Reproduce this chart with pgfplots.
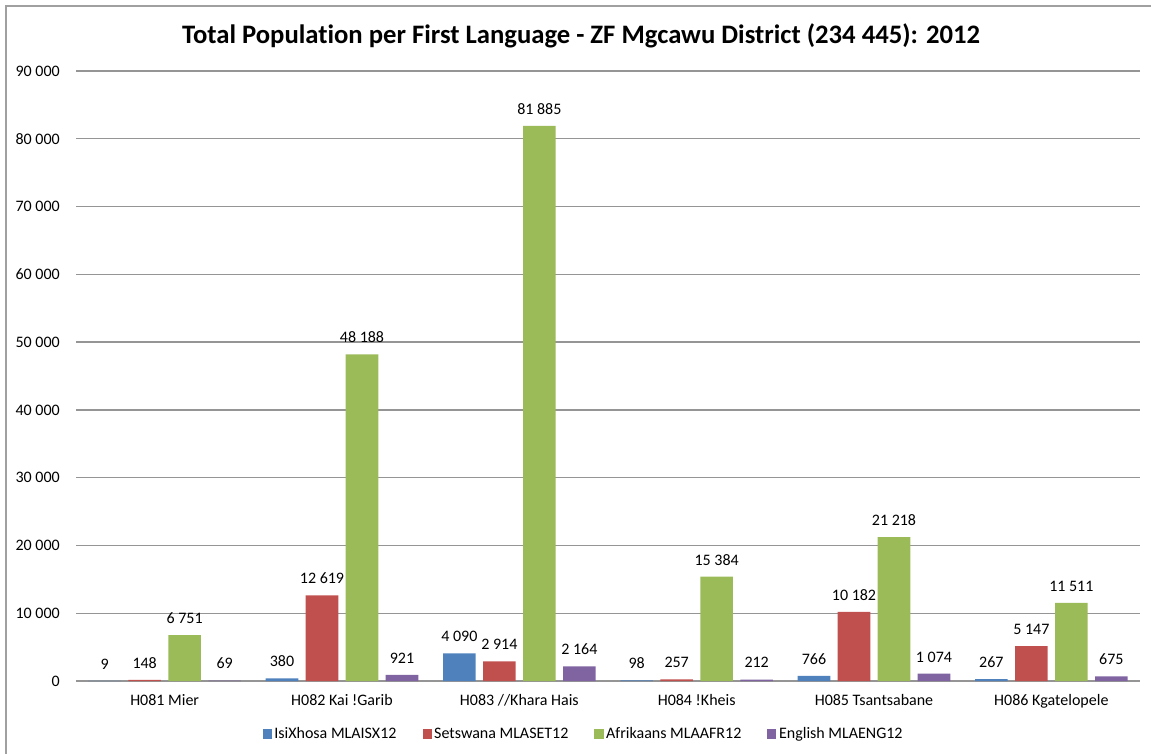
\documentclass[border=0pt]{standalone}
\usepackage{fontspec}
\setmainfont{Carlito}[Ligatures={NoCommon,NoContextual},RawFeature={-liga;-calt;-dlig}]
\usepackage{pgfplots}
\pgfplotsset{compat=1.18}
\definecolor{cxhosa}{HTML}{4F81BD}
\definecolor{ctswana}{HTML}{C0504D}
\definecolor{cafr}{HTML}{9BBB59}
\definecolor{ceng}{HTML}{8064A2}
\definecolor{gridgray}{HTML}{959595}
\definecolor{framegray}{HTML}{A0A0A0}
\begin{document}
\fontsize{12}{14.4}\selectfont
\begin{tikzpicture}
\useasboundingbox (0,0) rectangle (863.25pt,564.75pt);
\draw[framegray, line width=1.1pt] (4.5pt,-20pt) rectangle (880pt,560.25pt);
\begin{axis}[
  at={(57pt,54pt)}, anchor=south west,
  scale only axis, width=798pt, height=457.5pt,
  ybar=5.6pt, bar width=24.4pt,
  ymin=0, ymax=90000,
  ytick={0,10000,...,90000},
  scaled y ticks=false,
  xmin=-0.5, xmax=5.5,
  xtick={0,...,5},
  xticklabels={H081 Mier, H082 Kai !Garib, H083 //Khara Hais, H084 !Kheis, H085 Tsantsabane, H086 Kgatelopele},
  /pgf/number format/.cd, assume math mode=true, 1000 sep={\ }, fixed, precision=0,
  /pgfplots/.cd,
  axis lines*=left,
  x axis line style={draw=gridgray, line width=1pt},
  y axis line style={draw=none},
  major tick length=0pt,
  ymajorgrids,
  grid style={draw=gridgray, line width=1pt},
  yticklabel style={xshift=-8pt},
  xticklabel style={yshift=-6pt},
  nodes near coords,
  every node near coord/.append style={yshift=4.5pt, text=black},
  legend columns=4,
  legend style={draw=none, fill=none, at={(0.4774,-0.0869)}, anchor=center,
    /tikz/every even column/.append style={column sep=17.5pt}},
  legend image code/.code={\fill[#1] (0pt,-3.4pt) rectangle (6.8pt,3.4pt);},
]
\addplot[fill=cxhosa, draw=none] coordinates {(0,9) (1,380) (2,4090) (3,98) (4,766) (5,267)};
\addplot[fill=ctswana, draw=none] coordinates {(0,148) (1,12619) (2,2914) (3,257) (4,10182) (5,5147)};
\addplot[fill=cafr, draw=none] coordinates {(0,6751) (1,48188) (2,81885) (3,15384) (4,21218) (5,11511)};
\addplot[fill=ceng, draw=none] coordinates {(0,69) (1,921) (2,2164) (3,212) (4,1074) (5,675)};
\legend{IsiXhosa MLAISX12, Setswana MLASET12, Afrikaans MLAAFR12, English MLAENG12}
\end{axis}
\node[font=\fontsize{20}{24}\selectfont\bfseries, anchor=base] at (435.75pt,531.75pt)
  {Total Population per First Language - ZF Mgcawu District (234 445): 2012};
\end{tikzpicture}
\end{document}
